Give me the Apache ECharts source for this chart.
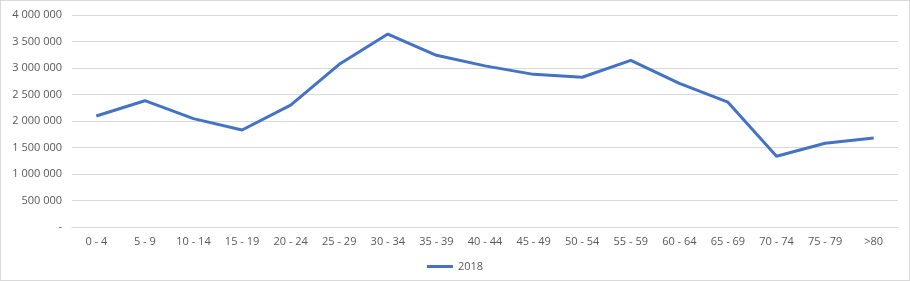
<!DOCTYPE html>
<html>
<head>
<meta charset="utf-8">
<script src="https://cdn.jsdelivr.net/npm/echarts@6/dist/echarts.min.js"></script>
<style>
  html, body { margin: 0; padding: 0; background: #fff; }
  #chart { width: 908px; height: 279px; border: 1px solid #d9d9d9; }
</style>
</head>
<body>
<div id="chart"></div>
<script>
// age groups
var categories = ['0 - 4', '5 - 9', '10 - 14', '15 - 19', '20 - 24', '25 - 29', '30 - 34', '35 - 39',
  '40 - 44', '45 - 49', '50 - 54', '55 - 59', '60 - 64', '65 - 69', '70 - 74', '75 - 79', '>80'];
// values
var values2018 = [2094000, 2383000, 2045000, 1830000, 2300000, 3070000, 3640000, 3240000,
  3040000, 2880000, 2825000, 3145000, 2710000, 2355000, 1335000, 1580000, 1680000];
var seriesName = '2018';

var txt = '#595959';
var font = 'Open Sans';

function fmt(v) {
  if (v === 0) return '-';
  return String(v).replace(/\B(?=(\d{3})+(?!\d))/g, ' ');
}

var option = {
  animation: false,
  textStyle: { fontFamily: font },
  grid: { left: 71, right: 11, top: 14, bottom: 53, containLabel: false },
  legend: {
    bottom: 3,
    left: 'center',
    itemWidth: 26,
    itemHeight: 3,
    itemGap: 4,
    textStyle: { color: txt, fontSize: 11, fontFamily: font },
    data: [{ name: seriesName, icon: 'rect' }]
  },
  xAxis: {
    type: 'category',
    data: categories,
    boundaryGap: true,
    axisLine: { lineStyle: { color: '#d9d9d9' } },
    axisTick: { show: false },
    axisLabel: { color: txt, fontSize: 11, margin: 9, interval: 0 }
  },
  yAxis: {
    type: 'value',
    min: 0,
    max: 4000000,
    interval: 500000,
    axisLine: { show: false },
    axisTick: { show: false },
    splitLine: { lineStyle: { color: '#d9d9d9' } },
    axisLabel: { color: txt, fontSize: 11, margin: 10, formatter: fmt }
  },
  series: [{
    name: seriesName,
    type: 'line',
    data: values2018,
    symbol: 'none',
    lineStyle: { color: '#4472c4', width: 3 },
    itemStyle: { color: '#4472c4' }
  }]
};

var chart = echarts.init(document.getElementById('chart'));
chart.setOption(option);
</script>
</body>
</html>
